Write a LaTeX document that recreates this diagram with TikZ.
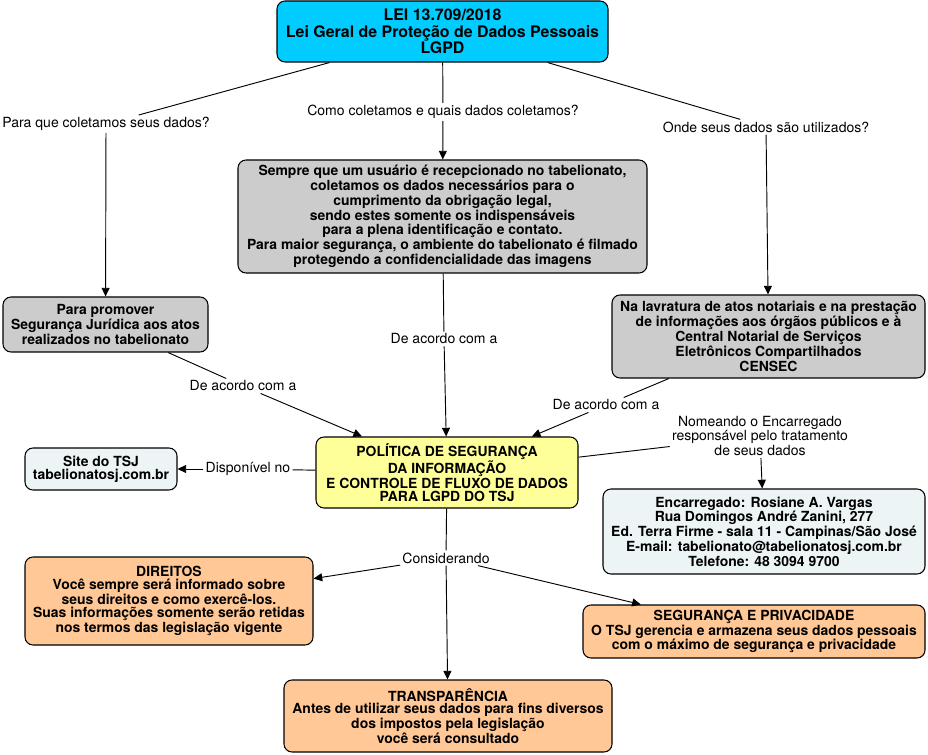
\documentclass[tikz,border=0pt]{standalone}
\usepackage{fontspec}
\setmainfont{TeX Gyre Heros}
\usetikzlibrary{arrows.meta}
\newlength\pxu
\setlength\pxu{0.75pt}
\definecolor{cmcyan}{RGB}{0,204,255}
\definecolor{cmgray}{RGB}{204,204,204}
\definecolor{cmyellow}{RGB}{255,255,153}
\definecolor{cmlight}{RGB}{237,244,246}
\definecolor{cmorange}{RGB}{255,200,150}
\begin{document}
\begin{tikzpicture}[x=0.75pt,y=-0.75pt,
  box/.style={draw=black, line width=0.8pt, rounded corners=6pt, align=center,
    font=\fontsize{10.45}{9.7}\selectfont\bfseries, inner sep=0pt},
  lbl/.style={align=center, font=\fontsize{10.5}{10.9}\selectfont, inner sep=1.5pt},
  conn/.style={line width=0.7pt},
  arr/.style={conn, -{Triangle[length=6.5pt,width=6pt]}}]
\useasboundingbox (0,0) rectangle (928,755);

% nodes
\node[box, fill=cmcyan, minimum width=331\pxu, minimum height=61\pxu,
  font=\fontsize{11.95}{12.4}\selectfont\bfseries] (top) at (442.5,31.5)
  {LEI 13.709/2018\\Lei Geral de Proteção de Dados Pessoais\\LGPD};
\node[box, fill=cmgray, minimum width=409\pxu, minimum height=113\pxu] (center) at (442.5,216.5)
  {Sempre que um usuário é recepcionado no tabelionato,\\coletamos os dados necessários para o\\cumprimento da obrigação legal,\\sendo estes somente os indispensáveis\\para a plena identificação e contato.\\Para maior segurança, o ambiente do tabelionato é filmado\\protegendo a confidencialidade das imagens};
\node[box, fill=cmgray, minimum width=205\pxu, minimum height=55\pxu] (left) at (105.5,324.5)
  {Para promover\\Segurança Jurídica aos atos\\realizados no tabelionato};
\node[box, fill=cmgray, minimum width=313\pxu, minimum height=83\pxu] (right) at (768.5,336.5)
  {Na lavratura de atos notariais e na prestação\\de informações aos órgãos públicos e à\\Central Notarial de Serviços\\Eletrônicos Compartilhados\\CENSEC};
\node[box, fill=cmyellow, minimum width=262\pxu, minimum height=71\pxu] (pol) at (447,472.5)
  {POLÍTICA DE SEGURANÇA\\DA INFORMAÇÃO\\E CONTROLE DE FLUXO DE DADOS\\PARA LGPD DO TSJ};
\node[box, fill=cmlight, minimum width=322\pxu, minimum height=85\pxu] (enc) at (764,531.5)
  {Encarregado: Rosiane A. Vargas\\Rua Domingos André Zanini, 277\\Ed. Terra Firme - sala 11 - Campinas/São José\\E-mail: tabelionato@tabelionatosj.com.br\\Telefone: 48 3094 9700};
\node[box, fill=cmlight, minimum width=152\pxu, minimum height=42\pxu] (site) at (101,469)
  {Site do TSJ\\tabelionatosj.com.br};
\node[box, fill=cmorange, minimum width=288\pxu, minimum height=88\pxu] (dir) at (169,601)
  {DIREITOS\\Você sempre será informado sobre\\seus direitos e como exercê-los.\\Suas informações somente serão retidas\\nos termos das legislação vigente};
\node[box, fill=cmorange, minimum width=342\pxu, minimum height=53\pxu] (seg) at (754,631.5)
  {SEGURANÇA E PRIVACIDADE\\O TSJ gerencia e armazena seus dados pessoais\\com o máximo de segurança e privacidade};
\node[box, fill=cmorange, minimum width=328\pxu, minimum height=72\pxu] (trans) at (448,716)
  {TRANSPARÊNCIA\\Antes de utilizar seus dados para fins diversos\\dos impostos pela legislação\\você será consultado};

% labels
\node[lbl] (l1) at (106,124) {Para que coletamos seus dados?};
\node[lbl] (l2) at (443,112) {Como coletamos e quais dados coletamos?};
\node[lbl] (l3) at (766,127) {Onde seus dados são utilizados?};
\node[lbl] (l4) at (243,386) {De acordo com a};
\node[lbl] (l5) at (444,339) {De acordo com a};
\node[lbl] (l6) at (606,405) {De acordo com a};
\node[lbl] (l7) at (760,436) {Nomeando o Encarregado\\responsável pelo tratamento\\de seus dados};
\node[lbl] (l8) at (248,469) {Disponível no};
\node[lbl] (l9) at (446,558) {Considerando};

% connectors
\draw[conn] (top) -- (l1);  \draw[arr] (l1) -- (left);
\draw[conn] (top) -- (l2);  \draw[arr] (l2) -- (center);
\draw[conn] (top) -- (l3);  \draw[arr] (l3) -- (right);
\draw[conn] (center) -- (l5); \draw[arr] (l5) -- (pol);
\draw[conn] (left) -- (l4);  \draw[arr] (l4) -- (pol);
\draw[conn] (right) -- (l6); \draw[arr] (l6) -- (pol);
\draw[conn] (pol) -- (l7);  \draw[arr] (l7) -- (enc);
\draw[conn] (pol) -- (l8);  \draw[arr] (l8) -- (site);
\draw[conn] (pol) -- (l9);
\draw[arr] (l9) -- (dir);
\draw[arr] (l9) -- (seg);
\draw[arr] (l9) -- (trans);
\end{tikzpicture}
\end{document}
